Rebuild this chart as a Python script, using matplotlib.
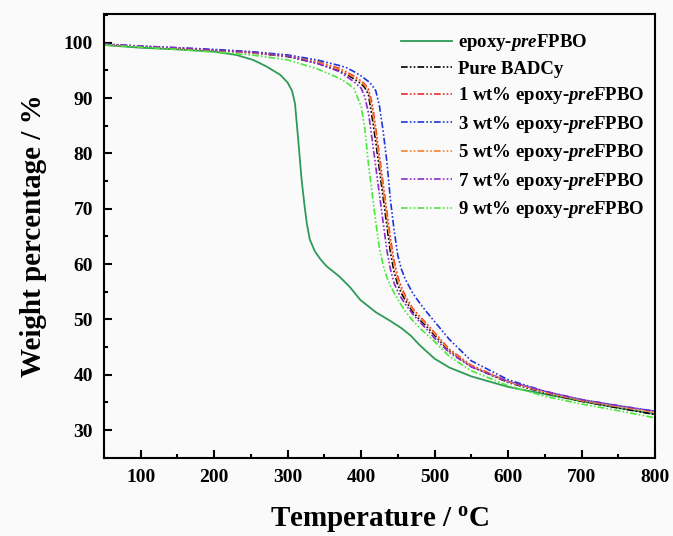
import matplotlib
matplotlib.use("Agg")
import matplotlib.pyplot as plt
from matplotlib.ticker import MultipleLocator

plt.rcParams['font.family'] = ['Liberation Serif', 'DejaVu Serif']
plt.rcParams['font.weight'] = 'bold'
plt.rcParams['mathtext.fontset'] = 'custom'
plt.rcParams['mathtext.rm'] = 'Liberation Serif:bold'
plt.rcParams['mathtext.bf'] = 'Liberation Serif:bold'
plt.rcParams['mathtext.it'] = 'Liberation Serif:italic:bold'

# ---- data ----
temp_neat = [50, 100, 150, 200, 230, 253, 270, 290, 300, 306, 310, 312, 315, 319, 323, 326,
             330, 337, 345, 353, 370, 385, 399, 420, 440, 455, 468, 480, 500, 520, 550, 600,
             650, 700, 750, 800]
w_neat = [99.6, 99.1, 98.8, 98.4, 97.8, 96.9, 95.8, 94.2, 92.8, 91.3, 89.0, 86.0, 81.5, 75.2,
          70.5, 67.4, 64.5, 62.3, 60.8, 59.6, 57.8, 55.8, 53.5, 51.3, 49.7, 48.4, 47.0, 45.3,
          42.9, 41.3, 39.7, 37.8, 36.5, 35.2, 34.0, 32.9]

temp = [50, 100, 150, 200, 250, 300, 340, 370, 380, 390, 400, 405, 410, 415, 420, 425, 430,
        435, 440, 445, 450, 455, 460, 470, 480, 490, 500, 520, 550, 600, 650, 700, 750, 800]
w_badcy = [99.7, 99.3, 99.0, 98.6, 98.2, 97.5, 96.3, 95.0, 94.3, 93.5, 92.6, 91.9, 90.6, 86.5,
           82.0, 77.0, 72.0, 67.0, 62.0, 58.5, 56.2, 54.7, 53.5, 51.4, 49.9, 48.6, 47.1, 44.3,
           41.5, 38.6, 36.7, 35.2, 34.0, 32.8]
w_1 = [99.7, 99.3, 99.0, 98.7, 98.3, 97.7, 96.6, 95.4, 94.7, 94.0, 93.1, 92.5, 91.6, 89.0,
       84.5, 79.5, 74.5, 69.5, 64.5, 60.5, 57.6, 55.8, 54.3, 52.0, 50.5, 49.1, 47.6, 44.6,
       41.7, 38.8, 36.9, 35.4, 34.3, 33.3]
w_3 = [99.8, 99.4, 99.1, 98.8, 98.4, 97.8, 96.9, 95.9, 95.5, 94.8, 94.0, 93.5, 93.0, 92.3,
       91.3, 88.5, 84.0, 78.5, 71.5, 66.0, 61.5, 59.0, 57.3, 54.8, 52.9, 51.2, 49.6, 46.4,
       42.5, 39.1, 37.0, 35.5, 34.4, 33.4]
w_5 = [99.7, 99.3, 99.0, 98.6, 98.2, 97.6, 96.5, 95.2, 94.5, 93.8, 92.9, 92.3, 91.2, 88.0,
       83.5, 78.5, 73.5, 68.5, 63.5, 59.7, 57.0, 55.3, 54.0, 51.8, 50.3, 48.9, 47.4, 44.4,
       41.6, 38.7, 36.8, 35.3, 34.2, 33.2]
w_7 = [99.7, 99.4, 99.1, 98.7, 98.3, 97.6, 96.3, 94.8, 93.9, 93.0, 91.8, 90.2, 87.3, 82.5,
       77.5, 72.5, 67.5, 62.5, 59.0, 56.5, 55.0, 53.8, 52.8, 51.0, 49.5, 48.1, 46.6, 44.0,
       41.4, 38.8, 37.0, 35.5, 34.4, 33.4]
w_9 = [99.6, 99.2, 98.8, 98.3, 97.8, 96.9, 95.3, 93.6, 92.8, 91.8, 88.5, 84.5, 78.0, 72.8,
       67.5, 62.8, 59.8, 57.6, 56.0, 54.8, 53.6, 52.5, 51.5, 49.8, 48.4, 47.2, 46.0, 43.3,
       40.7, 38.0, 36.1, 34.7, 33.5, 32.2]

labels = ['epoxy-$\\it{pre}$FPBO', 'Pure BADCy',
          '1 wt% epoxy-$\\it{pre}$FPBO', '3 wt% epoxy-$\\it{pre}$FPBO',
          '5 wt% epoxy-$\\it{pre}$FPBO', '7 wt% epoxy-$\\it{pre}$FPBO',
          '9 wt% epoxy-$\\it{pre}$FPBO']
colors = ['#2f9a58', '#000000', '#ee2a2a', '#1f35d8', '#f5832e', '#8a2ccc', '#4be83a']

bg = '#fafafa'
fig = plt.figure(figsize=(6.73, 5.36), dpi=100, facecolor=bg)
ax = fig.add_axes([104/673, 1 - 457.7/536, (655-104)/673, (457.7-14)/536])
ax.set_facecolor(bg)

dd = (0, (4, 1.3, 1, 1.3, 1, 1.3))
ax.plot(temp_neat, w_neat, color=colors[0], lw=1.3, ls='-', label=labels[0])
series = [w_badcy, w_1, w_3, w_5, w_7, w_9]
for i, w in enumerate(series):
    ax.plot(temp, w, color=colors[i + 1], lw=1.2, ls=dd, label=labels[i + 1])

ax.set_xlim(50, 800)
ax.set_ylim(25, 105.2)
ax.xaxis.set_minor_locator(MultipleLocator(50))
ax.yaxis.set_minor_locator(MultipleLocator(5))
ax.set_xticks([100, 200, 300, 400, 500, 600, 700, 800])
ax.set_yticks([30, 40, 50, 60, 70, 80, 90, 100])
ax.tick_params(which='major', direction='in', length=6, width=1.5, labelsize=14, pad=8)
ax.tick_params(which='minor', direction='in', length=3, width=1.5)
ax.tick_params(top=False, right=False, which='both')
for s in ax.spines.values():
    s.set_linewidth(1.5)

ax.set_xlabel('Temperature / $^{\\rm o}$C', fontsize=21, fontweight='bold', labelpad=14)
ax.set_ylabel('Weight percentage / %', fontsize=21, fontweight='bold', labelpad=12)

leg = ax.legend(loc='upper left', bbox_to_anchor=(0.539, 0.959), frameon=False,
                fontsize=13.5, handlelength=2.7, handletextpad=0.35, labelspacing=0.40,
                borderpad=0, borderaxespad=0)

fig.savefig('out.png', dpi=100, facecolor=bg)
